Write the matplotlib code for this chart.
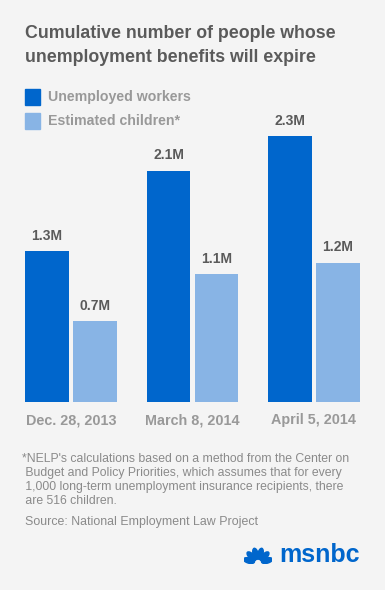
import matplotlib.pyplot as plt
import numpy as np
from matplotlib.patches import Ellipse, Rectangle

plt.rcParams['font.family'] = ['Liberation Sans', 'DejaVu Sans']

dates = ['Dec. 28, 2013', 'March 8, 2014', 'April 5, 2014']
workers = [1.31, 2.01, 2.31]
children = [0.70, 1.11, 1.21]
worker_labels = ['1.3M', '2.1M', '2.3M']
child_labels = ['0.7M', '1.1M', '1.2M']

DARK = '#0066CC'
LIGHT = '#88B4E5'
BG = '#F4F4F4'

W, H = 385, 590
fig = plt.figure(figsize=(W / 100, H / 100), dpi=100, facecolor=BG)


def fx(px):
    return px / W


def fy(py):
    return 1 - py / H


# plot area: x 25..360 px, baseline at y=402, top at y=130
ax = fig.add_axes([fx(25), fy(402), fx(335), (402 - 130) / H])
ax.set_facecolor(BG)
x = np.arange(len(dates))
w = 0.362
off = 0.1975
ax.bar(x - off, workers, width=w, color=DARK)
ax.bar(x + off, children, width=w, color=LIGHT)
for xi, v, lab in zip(x, workers, worker_labels):
    ax.text(xi - off, v + 0.075, lab, ha='center', va='bottom', fontsize=10,
            fontweight='bold', color='#5a5a5a')
for xi, v, lab in zip(x, children, child_labels):
    ax.text(xi + off, v + 0.075, lab, ha='center', va='bottom', fontsize=10,
            fontweight='bold', color='#5a5a5a')
ax.set_xlim(-0.379, 2.379)
ax.set_ylim(0, 2.365)
ax.set_xticks(x)
ax.set_xticklabels(dates, fontsize=10.4, fontweight='bold', color='#999999')
ax.tick_params(axis='x', length=0, pad=8)
ax.set_yticks([])
for s in ax.spines.values():
    s.set_visible(False)

# title
fig.text(fx(25), fy(33), 'Cumulative number of people whose', fontsize=12.8,
         fontweight='bold', color='#5a5a5a', va='center')
fig.text(fx(25), fy(57), 'unemployment benefits will expire', fontsize=12.8,
         fontweight='bold', color='#5a5a5a', va='center')

# legend
for py, col, lab in [(97, DARK, 'Unemployed workers'), (121, LIGHT, 'Estimated children*')]:
    fig.patches.append(Rectangle((fx(25), fy(py + 7.5)), fx(15), 15 / H,
                                 transform=fig.transFigure, color=col))
    fig.text(fx(48), fy(py), lab, fontsize=10.2, fontweight='bold',
             color='#999999', va='center')

# footnote
notes = ["*NELP's calculations based on a method from the Center on",
         " Budget and Policy Priorities, which assumes that for every",
         " 1,000 long-term unemployment insurance recipients, there",
         " are 516 children."]
for i, line in enumerate(notes):
    fig.text(fx(22), fy(459 + 14 * i), line, fontsize=8.85, color='#8a8a8a', va='center')
fig.text(fx(25), fy(522), 'Source: National Employment Law Project', fontsize=8.9,
         color='#8a8a8a', va='center')

# msnbc logo
lax = fig.add_axes([fx(244), fy(564), fx(28), 20 / H])
lax.set_xlim(-1.5, 1.5)
lax.set_ylim(0, 2.1)
lax.axis('off')
for ang in np.linspace(-75, 75, 6):
    r = np.radians(ang)
    cx, cy = 1.0 * np.sin(r), 1.0 * np.cos(r) + 0.1
    lax.add_patch(Ellipse((cx, cy), 0.55, 1.2, angle=-ang, color=DARK))
fig.text(fx(279), fy(555), 'msnbc', fontsize=18, fontweight='bold', color=DARK,
         va='center')

fig.savefig('out.png', dpi=100, facecolor=BG)
